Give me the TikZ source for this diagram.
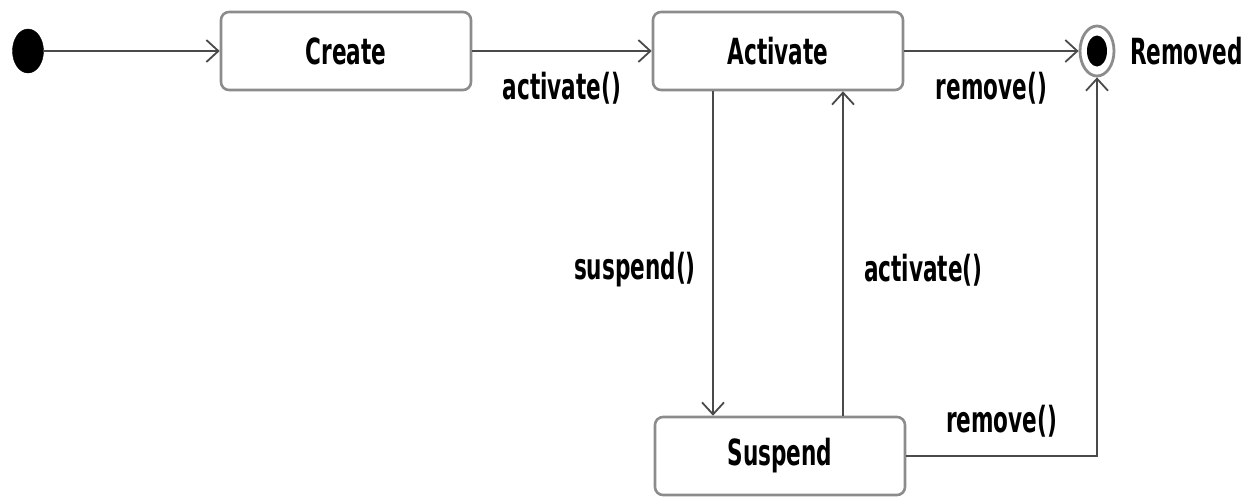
\documentclass[tikz,border=0pt]{standalone}
\usepackage{fontspec}
\setmainfont{DejaVu Sans}
\newfontfamily\lblfont[FakeStretch=0.6]{DejaVu Sans Bold}
\usetikzlibrary{arrows.meta,shapes.geometric}
\definecolor{edge}{HTML}{4A4A4A}
\definecolor{boxline}{HTML}{8C8C8C}
\begin{document}
\begin{tikzpicture}[x=1pt,y=-1pt,
  state/.style={draw=boxline,line width=2.6pt,rounded corners=8pt,fill=white,
    minimum width=250pt,minimum height=78pt,inner sep=0pt,
    font=\lblfont\fontsize{36}{36}\selectfont},
  lbl/.style={font=\lblfont\fontsize{36}{36}\selectfont,inner sep=0pt},
  trans/.style={draw=edge,line width=2.4pt,
    -{Straight Barb[length=12pt,width=22pt,line width=1.8pt]}}]
\useasboundingbox (0,0) rectangle (1258,496);
% states
\node[state] (create)   at (346,51)  {Create};
\node[state] (activate) at (778,51)  {Activate};
\node[state] (suspend)  at (780,456) {Suspend};
% initial and final pseudo-states
\node[draw=black,fill=black,ellipse,minimum width=31pt,minimum height=44pt,inner sep=0pt] (init) at (28,51) {};
\node[draw=boxline,line width=2.8pt,fill=white,ellipse,minimum width=34pt,minimum height=50pt,inner sep=0pt] (final) at (1097,51) {};
\node[fill=black,ellipse,minimum width=20pt,minimum height=31pt,inner sep=0pt] (finaldot) at (final.center) {};
\node[lbl,anchor=west] (removedlbl) at (1130,51) {Removed};
% transitions
\draw[trans] (init.east) -- (create.west);
\draw[trans] (create.east) -- node[lbl,below=20pt] (l1) {activate()} (activate.west);
\draw[trans] (activate.east) -- node[lbl,below=20pt] (l2) {remove()} (final.west);
\coordinate (adown) at ([xshift=-65pt]activate.south);
\draw[trans] (adown) -- node[lbl,left=16pt,pos=0.55] (l3) {suspend()} (adown |- suspend.north);
\coordinate (aup) at ([xshift=65pt]activate.south);
\draw[trans] (aup |- suspend.north) -- node[lbl,right=20pt,pos=0.45] (l4) {activate()} (aup);
\draw[trans] (suspend.east) -- node[lbl,above=18pt,pos=0.5] (l5) {remove()} (final.south |- suspend.east) -- (final.south);
\end{tikzpicture}
\end{document}
